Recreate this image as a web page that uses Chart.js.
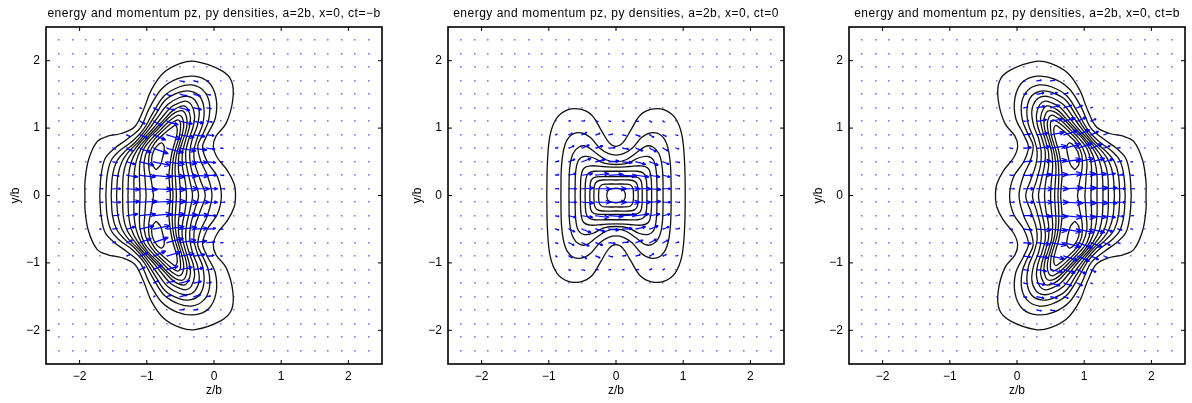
<!DOCTYPE html>
<html>
<head>
<meta charset="utf-8">
<script src="https://cdn.jsdelivr.net/npm/chart.js@4.4.1/dist/chart.umd.min.js"></script>
<style>
  body { margin: 0; background: #fff; width: 1192px; height: 403px; overflow: hidden; position: relative; font-family: "Liberation Sans", Arial, sans-serif; }
  .panel { position: absolute; top: 0; }
  .ttl { position: absolute; top: 6px; width: 336px; text-align: center; font-size: 12px; letter-spacing: 0.5px; line-height: 14px; white-space: nowrap; color: #000; }
</style>
</head>
<body>
<canvas id="c1" class="panel" width="389" height="403" style="left:0px"></canvas>
<canvas id="c2" class="panel" width="389" height="403" style="left:402px"></canvas>
<canvas id="c3" class="panel" width="389" height="403" style="left:803px"></canvas>
<div class="ttl" style="left:46px">energy and momentum pz, py densities, a=2b, x=0, ct=−b</div>
<div class="ttl" style="left:448px">energy and momentum pz, py densities, a=2b, x=0, ct=0</div>
<div class="ttl" style="left:849px">energy and momentum pz, py densities, a=2b, x=0, ct=b</div>
<script>
// quiver grid and axis ticks
const gridZ = [-2.3, -2.1, -1.9, -1.7, -1.5, -1.3, -1.1, -0.9, -0.7, -0.5, -0.3, -0.1, 0.1, 0.3, 0.5, 0.7, 0.9, 1.1, 1.3, 1.5, 1.7, 1.9, 2.1, 2.3]
const gridY = [-2.3, -2.1, -1.9, -1.7, -1.5, -1.3, -1.1, -0.9, -0.7, -0.5, -0.3, -0.1, 0.1, 0.3, 0.5, 0.7, 0.9, 1.1, 1.3, 1.5, 1.7, 1.9, 2.1, 2.3]
const axisTicks = [-2, -1, 0, 1, 2]

// ct=-b : upper halves of the energy contours (left y=0 -> top -> right y=0)
const p1Levels = [
  [[-1.92,0],[-1.92,0.2],[-1.87,0.52],[-1.74,0.8],[-1.58,0.88],[-1.38,0.92],[-1.18,1.02],[-1.05,1.27],[-0.93,1.57],[-0.75,1.82],[-0.5,1.96],[-0.28,1.99],[0.1,1.86],[0.26,1.7],[0.28,1.42],[0.18,1.07],[0.03,0.88],[-0.01,0.73],[0.05,0.56],[0.2,0.37],[0.3,0.17],[0.32,0]],
  [[-1.70,0],[-1.68,0.3],[-1.62,0.55],[-1.48,0.7],[-1.3,0.83],[-1.1,1.0],[-0.96,1.3],[-0.78,1.58],[-0.55,1.73],[-0.3,1.77],[-0.08,1.68],[0.03,1.45],[0.02,1.15],[-0.1,0.9],[-0.17,0.72],[-0.1,0.5],[0.05,0.28],[0.11,0]],
  [[-1.61,0],[-1.59,0.3],[-1.53,0.52],[-1.41,0.66],[-1.22,0.8],[-1.05,0.98],[-0.9,1.24],[-0.74,1.48],[-0.52,1.61],[-0.33,1.64],[-0.16,1.56],[-0.07,1.38],[-0.08,1.12],[-0.16,0.92],[-0.24,0.74],[-0.2,0.52],[-0.1,0.3],[-0.03,0]],
  [[-1.53,0],[-1.51,0.3],[-1.45,0.5],[-1.34,0.64],[-1.17,0.79],[-1.01,0.98],[-0.87,1.2],[-0.72,1.42],[-0.52,1.53],[-0.36,1.55],[-0.22,1.48],[-0.15,1.3],[-0.17,1.05],[-0.25,0.85],[-0.3,0.65],[-0.28,0.45],[-0.2,0.22],[-0.13,0]],
  [[-1.45,0],[-1.43,0.3],[-1.37,0.5],[-1.27,0.65],[-1.12,0.8],[-0.97,0.98],[-0.83,1.17],[-0.69,1.35],[-0.52,1.45],[-0.39,1.47],[-0.28,1.41],[-0.22,1.25],[-0.25,1.03],[-0.32,0.85],[-0.36,0.65],[-0.35,0.45],[-0.29,0.22],[-0.23,0]],
  [[-1.36,0],[-1.35,0.3],[-1.3,0.5],[-1.2,0.66],[-1.07,0.82],[-0.92,0.98],[-0.78,1.15],[-0.64,1.31],[-0.5,1.38],[-0.42,1.4],[-0.34,1.35],[-0.29,1.2],[-0.31,1.02],[-0.37,0.85],[-0.42,0.65],[-0.41,0.45],[-0.36,0.22],[-0.32,0]],
  [[-1.28,0],[-1.27,0.3],[-1.23,0.5],[-1.14,0.68],[-1.02,0.83],[-0.88,0.98],[-0.73,1.14],[-0.6,1.27],[-0.45,1.33],[-0.39,1.28],[-0.35,1.15],[-0.37,1.0],[-0.42,0.83],[-0.47,0.63],[-0.47,0.43],[-0.43,0.22],[-0.41,0]],
  [[-1.19,0],[-1.19,0.3],[-1.16,0.5],[-1.09,0.68],[-0.98,0.84],[-0.84,0.98],[-0.7,1.13],[-0.58,1.23],[-0.48,1.26],[-0.43,1.22],[-0.4,1.1],[-0.42,0.95],[-0.47,0.8],[-0.52,0.62],[-0.53,0.42],[-0.51,0.2],[-0.5,0]],
  [[-1.10,0],[-1.11,0.3],[-1.1,0.5],[-1.04,0.7],[-0.93,0.84],[-0.8,0.97],[-0.67,1.1],[-0.56,1.18],[-0.51,1.19],[-0.47,1.15],[-0.45,1.05],[-0.47,0.92],[-0.51,0.78],[-0.56,0.6],[-0.58,0.4],[-0.57,0.2],[-0.56,0]],
  [[-1.01,0],[-1.03,0.3],[-1.04,0.5],[-0.98,0.7],[-0.88,0.84],[-0.76,0.96],[-0.65,1.06],[-0.57,1.11],[-0.53,1.12],[-0.5,1.08],[-0.5,0.98],[-0.52,0.86],[-0.56,0.73],[-0.6,0.58],[-0.62,0.4],[-0.62,0.2],[-0.61,0]],
  [[-0.9,0],[-0.93,0.2],[-0.97,0.42],[-0.96,0.62],[-0.88,0.78],[-0.76,0.9],[-0.64,1.0],[-0.58,1.04],[-0.55,1.0],[-0.55,0.92],[-0.58,0.8],[-0.62,0.66],[-0.65,0.5],[-0.67,0.3],[-0.66,0.15],[-0.65,0]]
]
// small closed loop round the upper maximum
const p1Peak = [[-0.86,0.38],[-0.92,0.46],[-0.92,0.6],[-0.86,0.72],[-0.78,0.78],[-0.74,0.72],[-0.76,0.58],[-0.8,0.45],[-0.86,0.38]]

// ct=-b momentum arrows, hundredths of z/b
const p1Cols = [-1.7, -1.5, -1.3, -1.1, -0.9, -0.7, -0.5, -0.3, -0.1, 0.1]
const p1Rows = [1.7, 1.5, 1.3, 1.1, 0.9, 0.7, 0.5, 0.3, 0.1, -0.1, -0.3, -0.5, -0.7, -0.9, -1.1, -1.3, -1.5, -1.7]
const p1U = [
  [0,0,0,0,0,1,5,5,2,0],
  [0,0,0,0,2,5,8,8,4,0],
  [0,0,0,2,6,9,11,9,5,1],
  [0,0,1,6,10,13,14,11,6,1],
  [0,1,4,9,14,16,16,13,8,2],
  [1,3,7,13,17,19,18,15,9,3],
  [2,5,10,16,19,20,19,16,10,3],
  [3,7,13,18,21,21,20,17,11,4],
  [4,9,15,20,22,22,21,18,12,5],
  [4,9,15,20,22,22,21,18,12,5],
  [3,7,13,18,21,21,20,17,11,4],
  [2,5,10,16,19,20,19,16,10,3],
  [1,3,7,13,17,19,18,15,9,3],
  [0,1,4,9,14,16,16,13,8,2],
  [0,0,1,6,10,13,14,11,6,1],
  [0,0,0,2,6,9,11,9,5,1],
  [0,0,0,0,2,5,8,8,4,0],
  [0,0,0,0,0,1,5,5,2,0]
]
const p1V = [
  [0,0,0,0,0,0,-1,-1,0,0],
  [0,0,0,0,-1,-2,-2,-2,-1,0],
  [0,0,0,-1,-3,-3,-3,-2,-1,0],
  [0,0,0,-3,-5,-4,-3,-2,-1,0],
  [0,0,-2,-4,-6,-5,-3,-2,-1,0],
  [0,-1,-3,-5,-6,-5,-3,-2,-1,0],
  [0,-1,-3,-4,-4,-3,-2,-1,-1,0],
  [0,-1,-2,-2,-2,-2,-1,-1,0,0],
  [0,0,-1,-1,-1,-1,0,0,0,0],
  [0,0,1,1,1,1,0,0,0,0],
  [0,1,2,2,2,2,1,1,0,0],
  [0,1,3,4,4,3,2,1,1,0],
  [0,1,3,5,6,5,3,2,1,0],
  [0,0,2,4,6,5,3,2,1,0],
  [0,0,0,3,5,4,3,2,1,0],
  [0,0,0,1,3,3,3,2,1,0],
  [0,0,0,0,1,2,2,2,1,0],
  [0,0,0,0,0,0,1,1,0,0]
]

// ct=0 : upper-left quarters of the contours (left y=0 -> top at z=0)
const p2Quads = [
  [[-1.03,0],[-1.02,0.5],[-0.98,0.9],[-0.88,1.15],[-0.72,1.27],[-0.53,1.28],[-0.36,1.19],[-0.22,0.97],[-0.1,0.78],[0,0.73]],
  [[-0.82,0],[-0.81,0.45],[-0.76,0.75],[-0.66,0.9],[-0.52,0.93],[-0.38,0.86],[-0.24,0.7],[-0.11,0.62],[0,0.6]],
  [[-0.70,0],[-0.69,0.4],[-0.64,0.62],[-0.55,0.72],[-0.44,0.73],[-0.3,0.63],[-0.15,0.53],[0,0.5]],
  [[-0.61,0],[-0.6,0.35],[-0.56,0.52],[-0.47,0.58],[-0.34,0.56],[-0.18,0.48],[0,0.46]],
  [[-0.53,0],[-0.52,0.28],[-0.48,0.4],[-0.38,0.44],[-0.2,0.43],[0,0.42]],
  [[-0.46,0],[-0.45,0.24],[-0.41,0.33],[-0.32,0.36],[-0.15,0.36],[0,0.36]],
  [[-0.39,0],[-0.38,0.19],[-0.34,0.26],[-0.25,0.28],[0,0.28]],
  [[-0.33,0],[-0.32,0.15],[-0.28,0.21],[-0.2,0.23],[0,0.23]],
  [[-0.26,0],[-0.25,0.11],[-0.21,0.16],[-0.13,0.17],[0,0.17]],
  [[-0.14,0],[-0.12,0.07],[-0.06,0.1],[0,0.11]]
]
const p2Cols = [-0.9, -0.7, -0.5, -0.3, -0.1, 0.1, 0.3, 0.5, 0.7, 0.9]
const p2Rows = [1.1, 0.9, 0.7, 0.5, 0.3, 0.1, -0.1, -0.3, -0.5, -0.7, -0.9, -1.1]
const p2U = [
  [1,2,3,3,2,2,3,3,2,1],
  [2,4,5,5,4,4,5,5,4,2],
  [3,6,8,8,7,7,8,8,6,3],
  [4,7,10,11,11,11,11,10,7,4],
  [4,8,12,15,16,16,15,12,8,4],
  [4,9,13,17,20,20,17,13,9,4],
  [4,9,13,17,20,20,17,13,9,4],
  [4,8,12,15,16,16,15,12,8,4],
  [4,7,10,11,11,11,11,10,7,4],
  [3,6,8,8,7,7,8,8,6,3],
  [2,4,5,5,4,4,5,5,4,2],
  [1,2,3,3,2,2,3,3,2,1]
]
const p2V = [
  [0,1,1,0,0,0,0,-1,-1,0],
  [1,2,3,2,1,-1,-2,-3,-2,-1],
  [1,3,4,3,1,-1,-3,-4,-3,-1],
  [1,3,4,3,1,-1,-3,-4,-3,-1],
  [1,2,2,2,1,-1,-2,-2,-2,-1],
  [0,0,1,0,0,0,0,-1,0,0],
  [0,0,-1,0,0,0,0,1,0,0],
  [-1,-2,-2,-2,-1,1,2,2,2,1],
  [-1,-3,-4,-3,-1,1,3,4,3,1],
  [-1,-3,-4,-3,-1,1,3,4,3,1],
  [-1,-2,-3,-2,-1,1,2,3,2,1],
  [0,-1,-1,0,0,0,0,1,1,0]
]

const fontFamily = '"Liberation Sans", Arial, sans-serif'
const arrowScale = 1.3 // quiver autoscale
const toPts = (arr) => arr.map(([x, y]) => ({ x, y }))

// upper half -> closed loop (the plots are symmetric in y)
function closeUpper(half) {
  const lower = half.slice(1, -1).reverse().map(([z, y]) => [z, -y])
  return [...half, ...lower, half[0]]
}
function fromQuadrant(q) {
  const right = q.slice(0, -1).reverse().map(([z, y]) => [-z, y])
  return closeUpper([...q, ...right])
}
const flipY = (loop) => loop.map(([z, y]) => [z, -y])
const flipZ = (loop) => loop.map(([z, y]) => [-z, y])

const p1Loops = [...p1Levels.map(closeUpper), p1Peak, flipY(p1Peak)]
const p2Loops = p2Quads.map(fromQuadrant)
const p3Loops = p1Loops.map(flipZ)

function lookup(f, z, y) {
  const zz = f.mirror ? -z : z
  const c = f.cols.findIndex((v) => Math.abs(v - zz) < 1e-6)
  const r = f.rows.findIndex((v) => Math.abs(v - y) < 1e-6)
  if (c < 0 || r < 0) return [0, 0]
  const v = f.V[r][c] / 100
  return [f.U[r][c] / 100, f.mirror ? -v : v]
}

const quiverPlugin = {
  id: 'quiver',
  beforeDatasetsDraw(chart) {
    const { ctx, scales: { x, y } } = chart
    ctx.save()
    ctx.fillStyle = 'rgba(30,30,255,0.6)'
    gridY.forEach((gy) => gridZ.forEach((gz) => {
      ctx.fillRect(Math.round(x.getPixelForValue(gz)) - 1, Math.round(y.getPixelForValue(gy)) - 1, 1.6, 1.6)
    }))
    ctx.restore()
  },
  afterDatasetsDraw(chart, args, f) {
    const { ctx, scales: { x, y } } = chart
    ctx.save()
    ctx.strokeStyle = '#0000ff'
    ctx.lineWidth = 1.2
    gridY.forEach((gy) => gridZ.forEach((gz) => {
      const [u, v] = lookup(f, gz, gy)
      if (u === 0 && v === 0) return
      const x0 = x.getPixelForValue(gz), y0 = y.getPixelForValue(gy)
      const x1 = x.getPixelForValue(gz + u * arrowScale), y1 = y.getPixelForValue(gy + v * arrowScale)
      const dx = x1 - x0, dy = y1 - y0
      if (Math.hypot(dx, dy) < 1.5) return
      const hx = dx * 0.33, hy = dy * 0.33
      ctx.beginPath()
      ctx.moveTo(x0, y0); ctx.lineTo(x1, y1)
      ctx.moveTo(x1, y1); ctx.lineTo(x1 - hx - hy * 0.4, y1 - hy + hx * 0.4)
      ctx.moveTo(x1, y1); ctx.lineTo(x1 - hx + hy * 0.4, y1 - hy - hx * 0.4)
      ctx.stroke()
    }))
    ctx.restore()
  }
}

// MATLAB style box with inward ticks
const framePlugin = {
  id: 'frame',
  afterDatasetsDraw(chart) {
    const { ctx, chartArea: { left, right, top, bottom }, scales: { x, y } } = chart
    ctx.save()
    ctx.strokeStyle = '#000'
    ctx.lineWidth = 1.6
    ctx.strokeRect(left, top, right - left, bottom - top)
    ctx.lineWidth = 1
    ctx.beginPath()
    axisTicks.forEach((t) => {
      const px = x.getPixelForValue(t), py = y.getPixelForValue(t)
      ctx.moveTo(px, bottom); ctx.lineTo(px, bottom - 4)
      ctx.moveTo(px, top); ctx.lineTo(px, top + 4)
      ctx.moveTo(left, py); ctx.lineTo(left + 4, py)
      ctx.moveTo(right, py); ctx.lineTo(right - 4, py)
    })
    ctx.stroke()
    ctx.restore()
  }
}

const fmt = (v) => (v < 0 ? '\u2212' + Math.abs(v) : String(v))

function axis(title, isX) {
  return {
    type: 'linear',
    min: -2.5,
    max: 2.5,
    afterBuildTicks: (s) => { s.ticks = axisTicks.map((value) => ({ value })) },
    grid: { display: false, drawTicks: false },
    border: { display: false },
    ticks: { padding: isX ? 5 : 6, color: '#000', font: { size: 12, family: fontFamily }, callback: fmt },
    title: { display: true, text: title, color: '#000', font: { size: 12, family: fontFamily }, padding: isX ? { top: 0, bottom: 5 } : { top: 8, bottom: 0 } },
    afterFit: (s) => { if (isX) s.height = 39; else s.width = 46 }
  }
}

function makeChart(id, loops, field) {
  return new Chart(document.getElementById(id), {
    type: 'scatter',
    data: {
      datasets: loops.map((loop) => ({
        data: toPts(loop),
        showLine: true,
        borderColor: '#111',
        borderWidth: 1.3,
        pointRadius: 0,
        tension: 0.35,
        fill: false
      }))
    },
    options: {
      responsive: false,
      animation: false,
      events: [],
      layout: { padding: { top: 27, right: 7, left: 0, bottom: 0 } },
      plugins: { legend: { display: false }, tooltip: { enabled: false }, quiver: field },
      scales: { x: axis('z/b', true), y: axis('y/b', false) }
    },
    plugins: [quiverPlugin, framePlugin]
  })
}

makeChart('c1', p1Loops, { cols: p1Cols, rows: p1Rows, U: p1U, V: p1V, mirror: false })
makeChart('c2', p2Loops, { cols: p2Cols, rows: p2Rows, U: p2U, V: p2V, mirror: false })
makeChart('c3', p3Loops, { cols: p1Cols, rows: p1Rows, U: p1U, V: p1V, mirror: true })
</script>
</body>
</html>
